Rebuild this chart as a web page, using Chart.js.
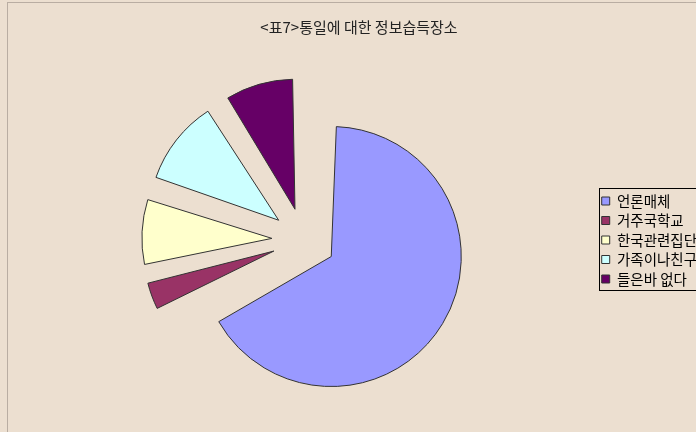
<!DOCTYPE html>
<html lang="ko">
<head>
<meta charset="utf-8">
<title>통일에 대한 정보습득장소</title>
<script src="https://cdn.jsdelivr.net/npm/chart.js@4/dist/chart.umd.min.js"></script>
<style>
  html, body { margin: 0; padding: 0; overflow: hidden; background: #ECDFD0; }
  #wrap { position: relative; width: 707px; height: 432px; }
</style>
</head>
<body>
<div id="wrap"><canvas id="pie"></canvas></div>
<script>
// Sources of information about unification (share of respondents, %)
const sources = ['언론매체', '거주국학교', '한국관련집단', '가족이나친구', '들은바 없다'];
const shares = [67.0, 4.2, 8.6, 10.9, 8.9];
const sliceColors = ['#9999FF', '#993366', '#FFFFCC', '#CCFFFF', '#660066'];
const chartTitle = '<표7>통일에 대한 정보습득장소';

const PIE_RADIUS = 130;
const EXPLODE = 32;           // distance each slice is pulled out from the centre
const FONT = '"Noto Sans CJK KR", "Noto Sans", sans-serif';

// Background fill and the thin frame of the chart area
const framePlugin = {
  id: 'frame',
  beforeDraw(chart) {
    const { ctx, width, height } = chart;
    ctx.save();
    ctx.fillStyle = '#ECDFD0';
    ctx.fillRect(0, 0, width, height);
    ctx.strokeStyle = '#B9ADA2';
    ctx.lineWidth = 1;
    ctx.strokeRect(7.5, 2.5, width + 10, height + 10);
    ctx.restore();
  }
};

// Chart.js grows the radius of offset arcs; keep every slice at the same radius
const explodePlugin = {
  id: 'explode',
  afterDatasetUpdate(chart, args) {
    const meta = chart.getDatasetMeta(args.index);
    meta.data.forEach(arc => {
      const fix = 1 - Math.sin(Math.min(Math.PI, arc.circumference || 0));
      arc.outerRadius = PIE_RADIUS - EXPLODE * fix;
    });
  }
};

// Box drawn round the legend entries
const legendBoxPlugin = {
  id: 'legendBox',
  afterDraw(chart) {
    const lg = chart.legend;
    if (!lg || !lg.legendHitBoxes || !lg.legendHitBoxes.length) return;
    const boxes = lg.legendHitBoxes;
    const top = Math.round(boxes[0].top - 6) + 0.5;
    const last = boxes[boxes.length - 1];
    const bottom = Math.round(last.top + last.height + 4) + 0.5;
    const left = Math.round(boxes[0].left - 3) + 0.5;
    const ctx = chart.ctx;
    ctx.save();
    ctx.strokeStyle = '#000000';
    ctx.lineWidth = 1;
    ctx.strokeRect(left, top, chart.width + 20, bottom - top);
    ctx.restore();
  }
};

new Chart(document.getElementById('pie'), {
  type: 'pie',
  data: {
    labels: sources,
    datasets: [{
      data: shares,
      backgroundColor: sliceColors,
      borderColor: '#333333',
      borderWidth: 1,
      offset: EXPLODE * 4
    }]
  },
  options: {
    responsive: true,
    maintainAspectRatio: false,
    animation: false,
    radius: PIE_RADIUS,
    events: [],
    layout: { padding: { left: 11, right: 0, top: 0, bottom: 0 } },
    plugins: {
      title: {
        display: true,
        text: chartTitle,
        color: '#222222',
        font: { family: FONT, size: 15, weight: 'normal' },
        padding: { top: 18, bottom: 12 }
      },
      legend: {
        position: 'right',
        align: 'center',
        fullSize: false,
        labels: {
          color: '#000000',
          boxWidth: 8,
          boxHeight: 8,
          padding: 5,
          font: { family: FONT, size: 14.5 }
        }
      },
      tooltip: { enabled: false }
    }
  },
  plugins: [framePlugin, explodePlugin, legendBoxPlugin]
});
</script>
</body>
</html>
